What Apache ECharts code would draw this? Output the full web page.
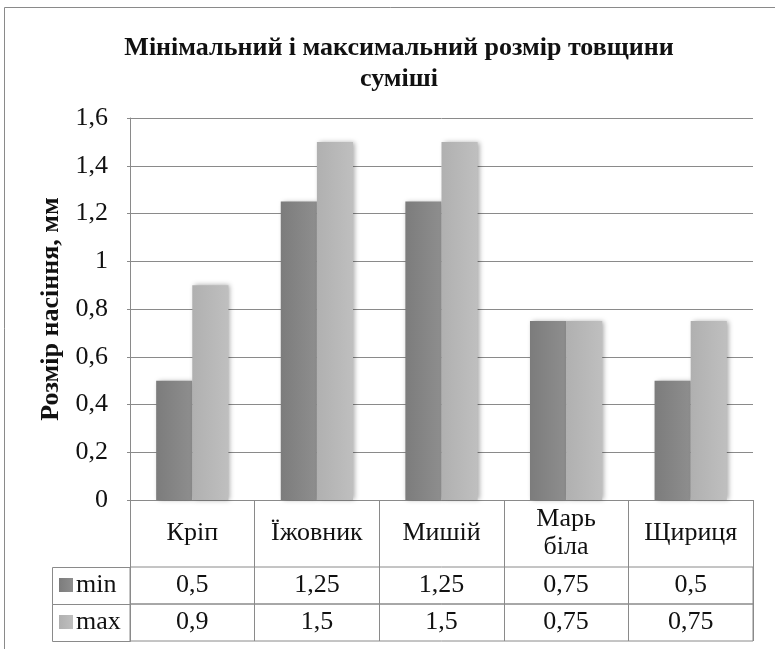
<!DOCTYPE html>
<html>
<head>
<meta charset="utf-8">
<script src="https://cdn.jsdelivr.net/npm/echarts@6/dist/echarts.min.js"></script>
<style>
  html,body{margin:0;padding:0;background:#fff}
  #chart{width:775px;height:649px}
</style>
</head>
<body>
<div id="chart"></div>
<script>
// Мінімальний і максимальний розмір товщини суміші — стовпчики + таблиця даних знизу

const categories = ['Кріп', 'Їжовник', 'Мишій', 'Марь\nбіла', 'Щириця']
const minVals = [0.5, 1.25, 1.25, 0.75, 0.5]
const maxVals = [0.9, 1.5, 1.5, 0.75, 0.75]
const seriesNames = ['min', 'max']
const yTicks = [0, 0.2, 0.4, 0.6, 0.8, 1, 1.2, 1.4, 1.6]

const FONT = '"Liberation Serif", "Times New Roman", serif'
const FS = 26
const LINE = '#8a8a8a'
const comma = v => String(v).replace('.', ',')

// розкладка: область графіка + рядки таблиці
const L = 130, R = 22, TOP = 118, AXIS_Y = 500
const HEAD_H = 67, ROW_H = 37

const grad = (a, b) => new echarts.graphic.LinearGradient(0, 0, 1, 0, [{offset:0,color:a},{offset:1,color:b}])
const barStyle = (a, b) => ({ color: grad(a, b), shadowBlur: 5, shadowColor: 'rgba(0,0,0,.35)', shadowOffsetX: 2, shadowOffsetY: 0 })

const rowGrid = i => ({ left: L, right: R, top: AXIS_Y + HEAD_H + i*ROW_H, height: ROW_H, show: true, borderColor: LINE, borderWidth: 1 })
const rowX = (i, vals) => ({
  gridIndex: i + 1, type: 'category', data: categories,
  axisLine: { show: false }, axisTick: { show: false },
  splitLine: { show: true, lineStyle: { color: LINE } },
  axisLabel: { inside: true, margin: ROW_H/2, verticalAlign: 'middle', fontFamily: FONT, fontSize: FS, color: '#111',
    formatter: (v, idx) => comma(vals[idx]) }
})
const rowY = i => ({ gridIndex: i + 1, type: 'value', show: false })

const chart = echarts.init(document.getElementById('chart'))
chart.setOption({
  animation: false,
  backgroundColor: '#fff',
  color: ['#858585', '#b8b8b8'],
  title: {
    text: 'Мінімальний і максимальний розмір товщини\nсуміші',
    left: 394, top: 28, textAlign: 'center',
    textStyle: { fontFamily: FONT, fontSize: FS, fontWeight: 'bold', color: '#111', lineHeight: 31 }
  },
  legend: {
    data: seriesNames, orient: 'vertical', left: 59, top: AXIS_Y + HEAD_H + 5,
    icon: 'rect', itemWidth: 14, itemHeight: 14, itemGap: ROW_H - 26, padding: 0,
    textStyle: { fontFamily: FONT, fontSize: FS, color: '#111', padding: [0, 0, 0, -2], height: 26, lineHeight: 26 }
  },
  grid: [
    { left: L, right: R, top: TOP, bottom: 649 - AXIS_Y },
    rowGrid(0), rowGrid(1)
  ],
  xAxis: [
    { gridIndex: 0, type: 'category', data: categories,
      axisLine: { show: true, lineStyle: { color: LINE } },
      axisTick: { show: true, length: HEAD_H, lineStyle: { color: LINE } },
      axisLabel: { margin: HEAD_H/2, verticalAlign: 'middle', fontFamily: FONT, fontSize: FS, color: '#111', lineHeight: 28 } },
    rowX(0, minVals), rowX(1, maxVals)
  ],
  yAxis: [
    { gridIndex: 0, type: 'value', min: 0, max: 1.6, interval: 0.2,
      name: 'Розмір насіння, мм', nameLocation: 'middle', nameGap: 62,
      nameTextStyle: { fontFamily: FONT, fontSize: FS, fontWeight: 'bold', color: '#111' },
      axisLine: { show: true, lineStyle: { color: LINE } },
      axisTick: { show: true, length: 3, lineStyle: { color: LINE } },
      splitLine: { lineStyle: { color: LINE } },
      axisLabel: { margin: 22, fontFamily: FONT, fontSize: FS, color: '#111',
        customValues: yTicks, formatter: v => comma(+v.toFixed(1)) } },
    rowY(0), rowY(1)
  ],
  series: [
    { name: seriesNames[0], type: 'bar', data: minVals, barGap: '0%', barCategoryGap: '42%', itemStyle: barStyle('#7c7c7c', '#8e8e8e') },
    { name: seriesNames[1], type: 'bar', data: maxVals, barGap: '0%', barCategoryGap: '42%', itemStyle: barStyle('#b0b0b0', '#bfbfbf') }
  ],
  graphic: [
    // зовнішня рамка діаграми (обрізана праворуч і знизу)
    { type: 'rect', shape: { x: 4.5, y: 7.5, width: 820, height: 700 }, style: { fill: null, stroke: LINE, lineWidth: 1 }, silent: true },
    // клітинки легенди таблиці
    { type: 'rect', shape: { x: 52.5, y: AXIS_Y + HEAD_H + 0.5, width: L - 52, height: ROW_H }, style: { fill: null, stroke: LINE }, silent: true },
    { type: 'rect', shape: { x: 52.5, y: AXIS_Y + HEAD_H + ROW_H + 0.5, width: L - 52, height: ROW_H }, style: { fill: null, stroke: LINE }, silent: true }
  ]
})
</script>
</body>
</html>
